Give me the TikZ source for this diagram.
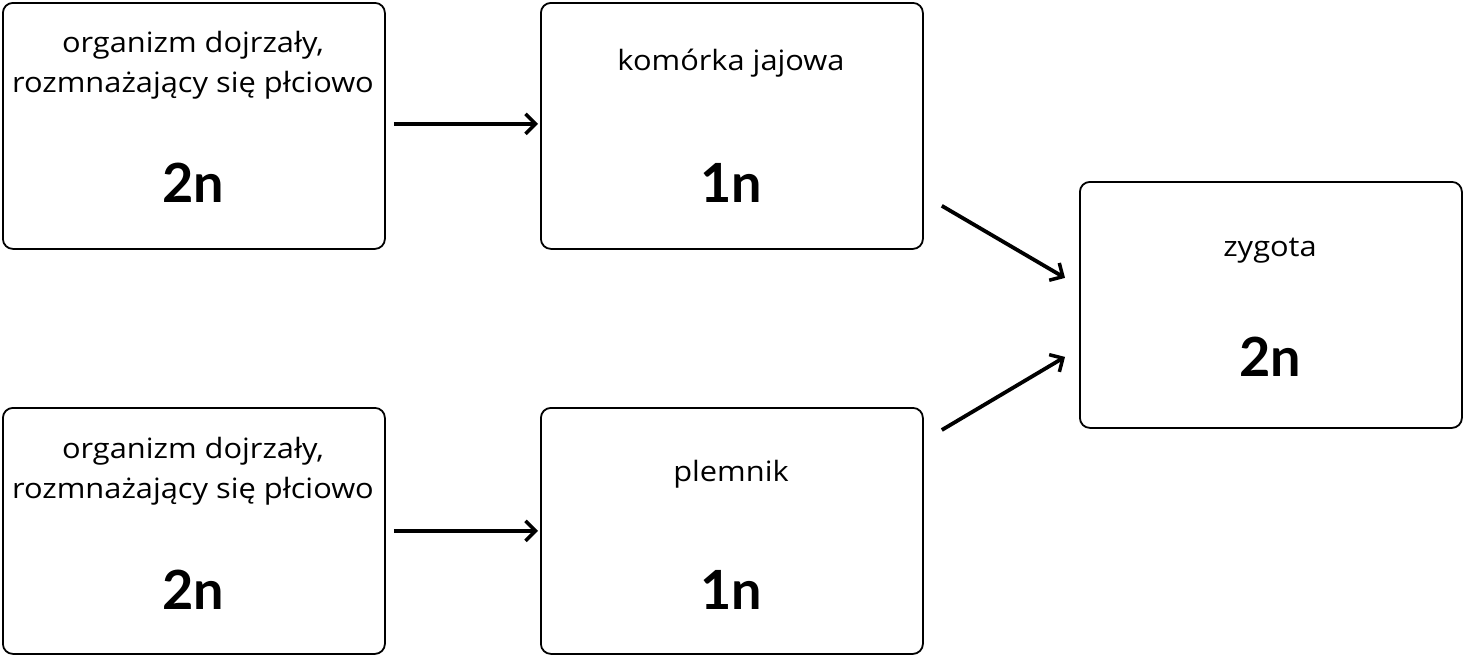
\documentclass[tikz,border=0pt]{standalone}
\usepackage{fontspec}
\setmainfont{Lato}
\newfontfamily\lblfont[FakeStretch=1.1]{Open Sans}
\usetikzlibrary{arrows.meta,calc}
\tikzset{
  box/.style={draw=black, line width=1.8pt, rounded corners=10pt, minimum width=382pt, minimum height=246pt, inner sep=0pt, anchor=north west},
  lbl/.style={font=\lblfont\fontsize{28}{40}\selectfont, align=center, inner sep=0pt},
  num/.style={font=\fontsize{54}{60}\selectfont\bfseries, inner sep=0pt},
  arr/.style={line width=3.8pt, -{Straight Barb[length=10pt,width=20pt,line width=3.5pt]}}
}
\begin{document}
\begin{tikzpicture}[x=1pt,y=-1pt]
\useasboundingbox (0,0) rectangle (1464,656);
\node[box] (a1) at (2,2) {};
\node[box] (b1) at (540,2) {};
\node[box] (a2) at (2,407) {};
\node[box] (b2) at (540,407) {};
\node[box] (c) at (1079,181) {};
\node[lbl] (a1t) at (193,65) {organizm dojrzały,\\rozmnażający się płciowo};
\node[num] (a1n) at (193,183) {2n};
\node[lbl] (b1t) at (731,63) {komórka jajowa};
\node[num] (b1n) at (731,183) {1n};
\node[lbl] (a2t) at (193,471) {organizm dojrzały,\\rozmnażający się płciowo};
\node[num] (a2n) at (193,590) {2n};
\node[lbl] (b2t) at (731,474) {plemnik};
\node[num] (b2n) at (731,590) {1n};
\node[lbl] (ct) at (1270,251) {zygota};
\node[num] (cn) at (1270,357) {2n};
\draw[arr] ($(a1.east)+(8,-2)$) -- ($(b1.west)+(-2,-2)$);
\draw[arr] ($(a2.east)+(8,0)$) -- ($(b2.west)+(-2,0)$);
\draw[arr] ($(b1.south east)+(18,-44)$) -- ($(c.west)+(-14,-27)$);
\draw[arr] ($(b2.north east)+(18,23)$) -- ($(c.west)+(-14,52)$);
\end{tikzpicture}
\end{document}
